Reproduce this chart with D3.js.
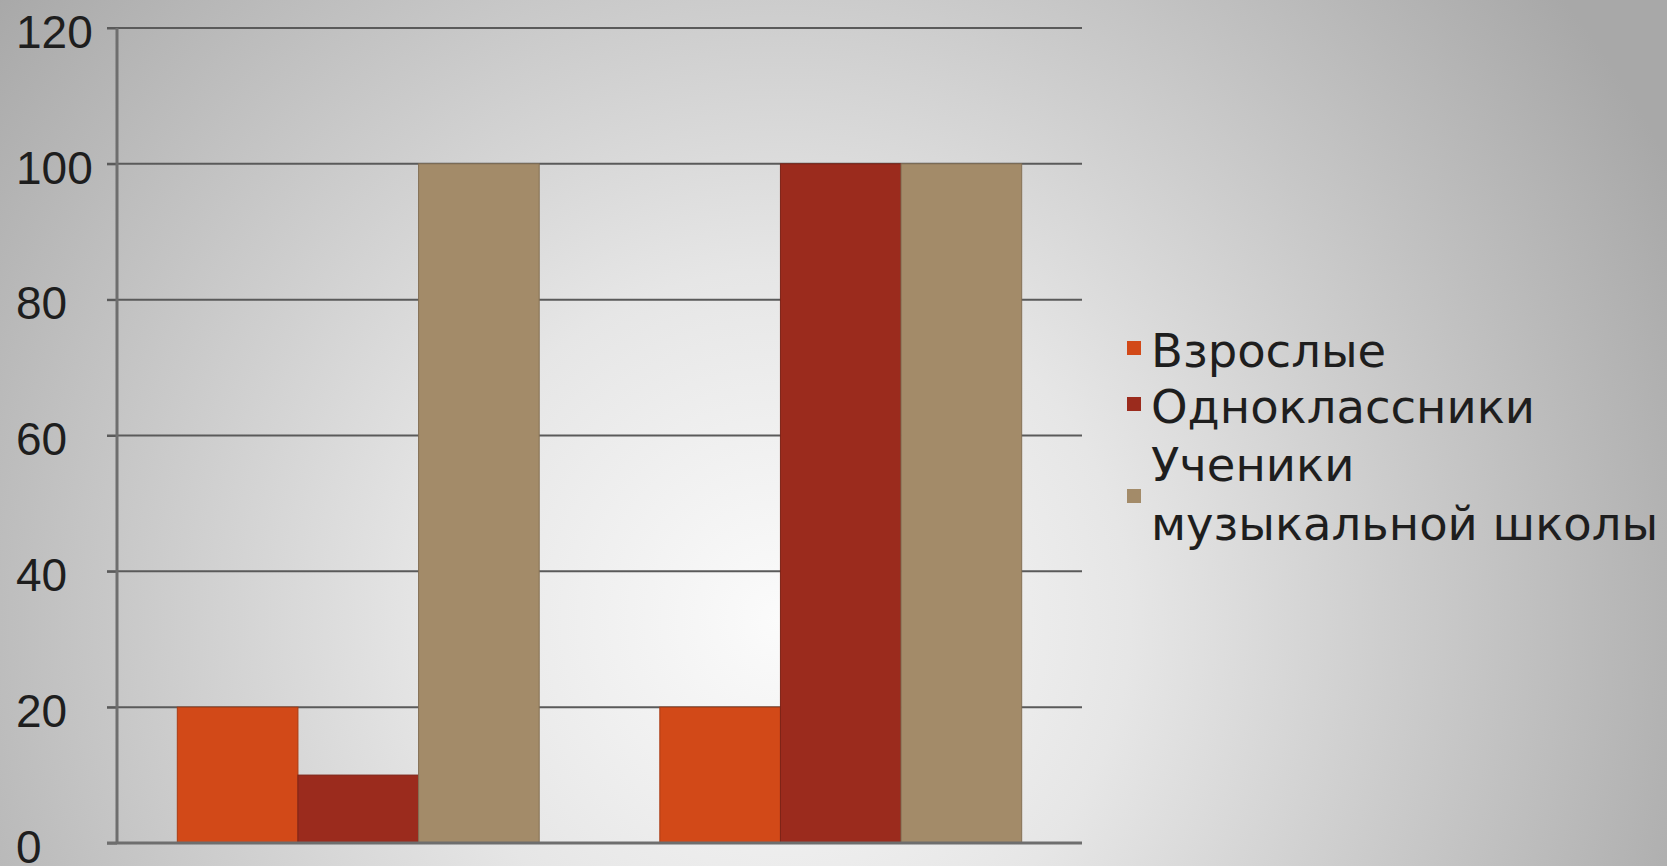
<!DOCTYPE html>
<html lang="ru">
<head>
<meta charset="utf-8">
<script src="https://cdn.jsdelivr.net/npm/d3@7"></script>
<style>
  html, body { margin: 0; padding: 0; overflow: hidden; }
  svg { display: block; font-family: "DejaVu Sans", Verdana, sans-serif; }
</style>
</head>
<body>
<script>
var categories = ["1", "2"];
var seriesNames = ["Взрослые", "Одноклассники", "Ученики музыкальной школы"];
var vzroslye = [20, 20];
var odnoklassniki = [10, 100];
var ucheniki = [100, 100];
var yTicks = [0, 20, 40, 60, 80, 100, 120];
var colors = ["#d24918", "#9b2b1d", "#a38b69"];

var w = 1667, h = 866;
var plotLeft = 117, plotRight = 1082, plotTop = 28, plotBottom = 843;

var seriesValues = [vzroslye, odnoklassniki, ucheniki];

var svg = d3.select("body").append("svg")
  .attr("width", w)
  .attr("height", h);

var defs = svg.append("defs");
var grad = defs.append("radialGradient")
  .attr("id", "bg")
  .attr("gradientUnits", "userSpaceOnUse")
  .attr("cx", 780).attr("cy", 620).attr("r", 1000);
grad.append("stop").attr("offset", "0").attr("stop-color", "#fbfbfb");
grad.append("stop").attr("offset", "0.35").attr("stop-color", "#e6e6e6");
grad.append("stop").attr("offset", "1").attr("stop-color", "#a8a8a8");

svg.append("rect")
  .attr("width", w).attr("height", h)
  .attr("fill", "url(#bg)");

var yScale = d3.scaleLinear().domain([0, 120]).range([plotBottom, plotTop]);
var x0 = d3.scaleBand().domain(categories).range([plotLeft, plotRight])
  .paddingInner(0.25).paddingOuter(0.125);
var x1 = d3.scaleBand().domain(d3.range(seriesNames.length)).range([0, x0.bandwidth()]);

// grid
svg.append("g")
  .selectAll("line")
  .data(yTicks.filter(function(d){ return d > 0; }))
  .enter()
  .append("line")
  .attr("x1", plotLeft - 10).attr("x2", plotRight)
  .attr("y1", function(d){ return yScale(d); })
  .attr("y2", function(d){ return yScale(d); })
  .attr("stroke", "#5a5a5a")
  .attr("stroke-width", 2);

// bars
var groups = svg.append("g")
  .selectAll("g")
  .data(categories)
  .enter()
  .append("g")
  .attr("transform", function(d){ return "translate(" + x0(d) + ",0)"; });

groups.selectAll("rect")
  .data(function(d, i){ return seriesValues.map(function(s, j){ return {s: j, v: s[i]}; }); })
  .enter()
  .append("rect")
  .attr("x", function(d){ return x1(d.s); })
  .attr("y", function(d){ return yScale(d.v); })
  .attr("width", x1.bandwidth())
  .attr("height", function(d){ return yScale(0) - yScale(d.v); })
  .attr("fill", function(d){ return colors[d.s]; })
  .attr("stroke", function(d){ return d3.color(colors[d.s]).darker(0.6); })
  .attr("stroke-width", 1);

// y axis, labels left aligned at the picture edge
var yAxis = svg.append("g")
  .attr("transform", "translate(" + plotLeft + ",0)")
  .call(d3.axisLeft(yScale).tickValues(yTicks).tickSize(10));
yAxis.select(".domain").remove();
yAxis.selectAll(".tick line").attr("stroke", "#5a5a5a").attr("stroke-width", 2);
yAxis.selectAll(".tick text")
  .attr("x", 16 - plotLeft)
  .attr("text-anchor", "start")
  .attr("font-size", 46)
  .attr("fill", "#1e1e1e")
  .attr("dy", "0.42em");
yAxis.append("line")
  .attr("y1", plotTop).attr("y2", plotBottom)
  .attr("stroke", "#6e6e6e").attr("stroke-width", 3);

// x axis line
svg.append("line")
  .attr("x1", plotLeft - 10).attr("x2", plotRight)
  .attr("y1", plotBottom).attr("y2", plotBottom)
  .attr("stroke", "#6e6e6e").attr("stroke-width", 3);

// legend
var legendRows = [
  {s: 0, lines: ["Взрослые"], y: 367},
  {s: 1, lines: ["Одноклассники"], y: 423},
  {s: 2, lines: ["Ученики", "музыкальной школы"], y: 481}
];
var lg = svg.append("g").attr("font-size", 46.5).attr("fill", "#1e1e1e");
legendRows.forEach(function(r){
  var squareY = r.lines.length > 1 ? r.y + 8 : r.y - 26;
  lg.append("rect")
    .attr("x", 1127).attr("y", squareY)
    .attr("width", 14).attr("height", 14)
    .attr("fill", colors[r.s]);
  var t = lg.append("text").attr("x", 1151).attr("y", r.y);
  r.lines.forEach(function(line, k){
    t.append("tspan").attr("x", 1151).attr("dy", k === 0 ? 0 : 59).text(line);
  });
});
</script>
</body>
</html>
